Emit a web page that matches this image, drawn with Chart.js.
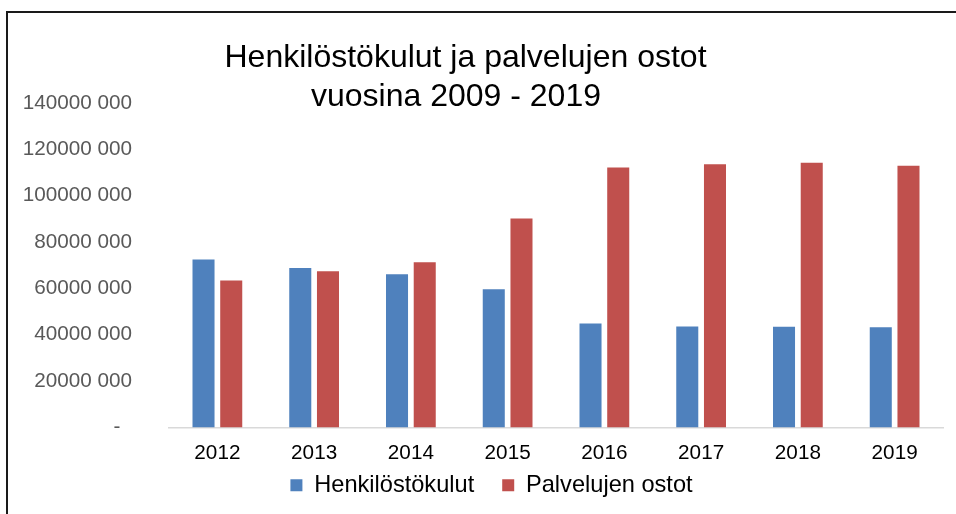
<!DOCTYPE html>
<html>
<head>
<meta charset="utf-8">
<script src="https://cdn.jsdelivr.net/npm/chart.js@4/dist/chart.umd.min.js"></script>
<style>
  body { margin: 0; background: #fff; overflow: hidden; }
  #frame { position: absolute; left: 6px; top: 11px; width: 1000px; height: 600px; border: 2px solid #1a1a1a; }
  #wrap { position: absolute; left: 0; top: 0; width: 956px; height: 514px; }
</style>
</head>
<body>
<div id="frame"></div>
<div id="wrap"><canvas id="kulut" width="956" height="514"></canvas></div>
<script>
const years = ['2012', '2013', '2014', '2015', '2016', '2017', '2018', '2019'];
const henkilostokulut = [72500000, 68800000, 66100000, 59600000, 44800000, 43500000, 43400000, 43200000];
const palvelujenOstot = [63400000, 67400000, 71300000, 90200000, 112200000, 113600000, 114200000, 112900000];
const yTickLabels = ['-', '20000 000', '40000 000', '60000 000', '80000 000', '100000 000', '120000 000', '140000 000'];
const titleLines = ['Henkilöstökulut ja palvelujen ostot', 'vuosina 2009 - 2019'];

const FONT = "'Liberation Sans', Arial, sans-serif";

// title drawn by hand so both lines can sit where Excel put them
const titlePlugin = {
    id: 'excelTitle',
    afterLayout: function(chart) {
        // axes were squeezed in afterFit; let their labels spill out instead of being clipped
        chart.scales.y.left = 0;
        chart.scales.x.bottom = chart.height;
    },
    afterDraw: function(chart) {
        const c = chart.ctx;
        c.save();
        c.font = '32px ' + FONT;
        c.fillStyle = '#000';
        c.textAlign = 'center';
        c.textBaseline = 'middle';
        c.fillText(titleLines[0], 465.5, 58);
        c.fillText(titleLines[1], 456, 97);
        c.restore();
    }
};

new Chart(document.getElementById('kulut'), {
    type: 'bar',
    data: {
        labels: years,
        datasets: [{
            label: 'Henkilöstökulut',
            data: henkilostokulut,
            backgroundColor: '#4F81BD'
        }, {
            label: 'Palvelujen ostot',
            data: palvelujenOstot,
            backgroundColor: '#C0504D'
        }]
    },
    options: {
        responsive: false,
        animation: false,
        categoryPercentage: 0.573,
        barPercentage: 0.795,
        layout: {
            padding: { top: 103, left: 40, right: 13, bottom: 7 }
        },
        plugins: {
            title: { display: false },
            tooltip: { enabled: false },
            legend: {
                position: 'bottom',
                labels: {
                    boxWidth: 12,
                    boxHeight: 12,
                    padding: 28,
                    color: '#000',
                    font: { family: FONT, size: 23.6 }
                }
            }
        },
        scales: {
            x: {
                grid: { display: false, drawTicks: false },
                border: { display: true, color: '#d9d9d9', width: 1.5 },
                ticks: {
                    padding: 13,
                    color: '#000',
                    font: { family: FONT, size: 20.7 }
                },
                afterFit: function(scale) {
                    scale.height = 18;
                }
            },
            y: {
                min: 0,
                max: 140000000,
                grid: { display: false, drawTicks: false },
                border: { display: false },
                ticks: {
                    stepSize: 20000000,
                    padding: 37,
                    color: '#595959',
                    font: { family: FONT, size: 20.7 },
                    callback: function(value, index) {
                        const t = yTickLabels[index];
                        return t === '-' ? '-\u00a0\u00a0' : t;
                    }
                },
                afterFit: function(scale) {
                    scale.width = 129;
                }
            }
        }
    },
    plugins: [titlePlugin]
});
</script>
</body>
</html>
